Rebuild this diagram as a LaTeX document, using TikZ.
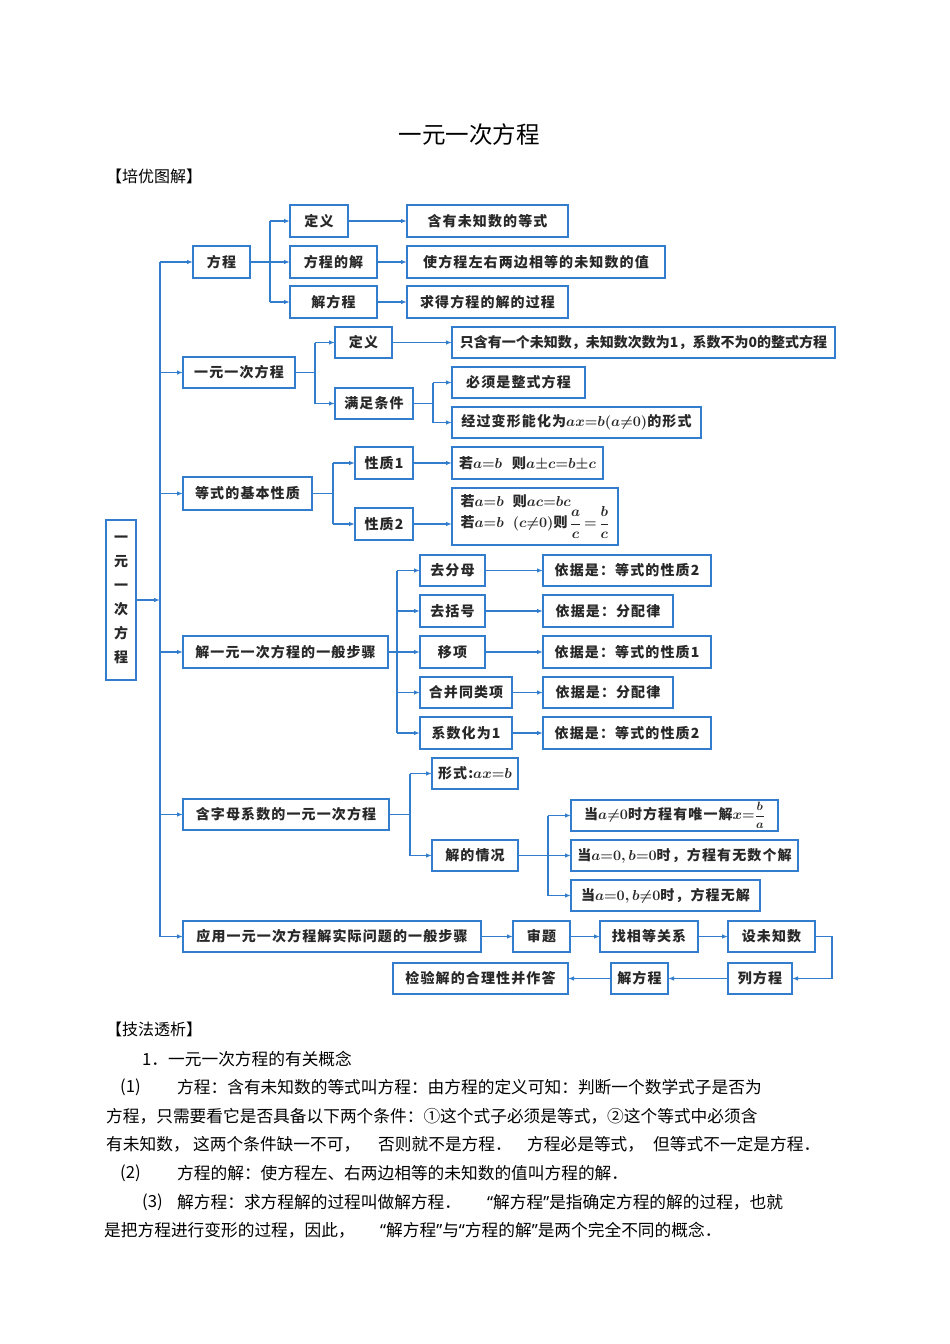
\documentclass[tikz,border=0pt]{standalone}
\usepackage{fontspec}
\setmainfont{Noto Sans CJK SC}
\newfontfamily\boxf[LetterSpace=8]{Noto Sans CJK SC}
\newfontfamily\bodyf{Noto Sans CJK SC}
\newfontfamily\qf{Noto Sans}
\newcommand\lqq{{\qf “}}
\newcommand\rqq{{\qf ”}}
\newcommand\bigfr[3]{{\fontsize{#3}{#3}\selectfont$\displaystyle\frac{#1}{#2}$}}
\usetikzlibrary{arrows.meta}
\definecolor{bl}{RGB}{50,125,205}
\definecolor{tx}{RGB}{40,40,40}
\tikzset{
  bx/.style={draw=bl,line width=1.6pt,inner sep=0pt,outer sep=0pt,text=tx,font=\boxf\bfseries\boldmath\fontsize{14}{16}\selectfont},
  ln/.style={draw=bl,line width=1.2pt},
  arr/.style={ln,-{Latex[length=6pt,width=4.5pt]}},
  txt/.style={inner sep=0pt,anchor=west,text=black,font=\bodyf\fontsize{16.7}{18}\selectfont},
}
\newcommand\bx[6]{\node[bx,minimum width={(#4-#2)*1pt},minimum height={(#5-#3)*1pt}] (#1) at ({(#2+#4)/2},{(#3+#5)/2}) {#6};}
\begin{document}
\begin{tikzpicture}[x=1pt,y=-1pt]
\useasboundingbox (0,0) rectangle (950,1344);
\fill[white] (0,0) rectangle (950,1344);
% headings
\node[inner sep=0pt,font=\bodyf\fontsize{23.5}{25}\selectfont] (title) at (469,135) {一元一次方程};
\node[txt,font=\bodyf\fontsize{16}{18}\selectfont] (h1) at (106,176) {【培优图解】};
% boxes
\node[bx,minimum width=30pt,minimum height=160pt,align=center,font=\boxf\bfseries\fontsize{14}{24}\selectfont] (big) at (121,600) {一\\元\\一\\次\\方\\程};
\bx{fc}{193}{246}{250}{278}{方程}
\bx{yy}{183}{357}{295}{388}{一元一次方程}
\bx{dx}{183}{477}{312}{510}{等式的基本性质}
\bx{bz}{183}{636}{388}{668}{解一元一次方程的一般步骤}
\bx{hz}{183}{799}{389}{830}{含字母系数的一元一次方程}
\bx{app}{183}{921}{481}{952}{应用一元一次方程解实际问题的一般步骤}
\bx{d1}{290}{205}{348}{237}{定义}
\bx{s1}{290}{246}{377}{278}{方程的解}
\bx{j1}{290}{286}{377}{318}{解方程}
\bx{t1}{407}{205}{568}{237}{含有未知数的等式}
\bx{t2}{407}{246}{665}{278}{使方程左右两边相等的未知数的值}
\bx{t3}{407}{286}{568}{318}{求得方程的解的过程}
\bx{d2}{335}{327}{392}{358}{定义}
\bx{tj}{335}{388}{413}{419}{满足条件}
\bx{dd}{452}{327}{835}{358}{\bodyf\bfseries\fontsize{14}{16}\selectfont 只含有一个未知数，未知数次数为1，系数不为0的整式方程}
\bx{c1}{452}{367}{585}{398}{必须是整式方程}
\bx{c2}{452}{407}{701}{438}{经过变形能化为$ax{=}b(a{\neq}0)$的形式}
\bx{x1}{355}{447}{413}{479}{性质1}
\bx{x2}{355}{508}{413}{540}{性质2}
\bx{r1}{452}{447}{603}{479}{若$a{=}b$\hspace{10pt}则$a{\pm}c{=}b{\pm}c$}
\node[bx,minimum width=166pt,minimum height=57pt,align=left] (r2) at (535,516.5) {若$a{=}b$\hspace{9pt}则$ac{=}bc$\\[-2pt]若$a{=}b$\hspace{9pt}$(c{\neq}0)$则\,\bigfr{a}{c}{14.5}$\,{=}\,$\bigfr{b}{c}{14.5}};
\bx{k1}{420}{555}{485}{586}{去分母}
\bx{k2}{420}{595}{485}{627}{去括号}
\bx{k3}{420}{636}{485}{668}{移项}
\bx{k4}{420}{677}{512}{708}{合并同类项}
\bx{k5}{420}{717}{512}{749}{系数化为1}
\bx{e1}{543}{555}{711}{586}{依据是：等式的性质2}
\bx{e2}{543}{595}{673}{627}{依据是：分配律}
\bx{e3}{543}{636}{711}{668}{依据是：等式的性质1}
\bx{e4}{543}{677}{673}{708}{依据是：分配律}
\bx{e5}{543}{717}{711}{749}{依据是：等式的性质2}
\bx{xs}{432}{758}{518}{789}{形式:$ax{=}b$}
\bx{jq}{432}{840}{518}{871}{解的情况}
\bx{q1}{571}{800}{778}{831}{当$a{\neq}0$时方程有唯一解$x{=}$\bigfr{b}{a}{13}}
\bx{q2}{571}{840}{798}{871}{当$a{=}0,b{=}0$时，方程有无数个解}
\bx{q3}{571}{880}{760}{911}{当$a{=}0,b{\neq}0$时，方程无解}
\bx{sh}{513}{921}{570}{952}{审题}
\bx{zx}{600}{921}{698}{952}{找相等关系}
\bx{sw}{728}{921}{815}{952}{设未知数}
\bx{lf}{728}{963}{792}{994}{列方程}
\bx{jf}{611}{963}{668}{994}{解方程}
\bx{jy}{393}{963}{568}{994}{检验解的合理性并作答}
% spines
\coordinate (S0) at (160,0);
\coordinate (S1) at (270,0);
\coordinate (S2) at (315,0);
\coordinate (S3) at (433,0);
\coordinate (S4) at (333,0);
\coordinate (S5) at (397,0);
\coordinate (S6) at (410,0);
\coordinate (S7) at (548,0);
% main spine
\draw[ln] (S0|-fc.west) -- (S0|-app.west);
\draw[arr] (big.east) -- (big.east-|S0);
\foreach \n in {fc,yy,dx,bz,hz,app} \draw[arr] (S0|-\n.west) -- (\n.west);
% fangcheng
\draw[ln] (fc.east) -- (fc.east-|S1);
\draw[ln] (S1|-d1.west) -- (S1|-j1.west);
\foreach \n in {d1,s1,j1} \draw[arr] (S1|-\n.west) -- (\n.west);
\draw[arr] (d1.east) -- (t1.west);
\draw[arr] (s1.east) -- (t2.west);
\draw[arr] (j1.east) -- (t3.west);
% yiyuan
\draw[ln] (yy.east) -- (yy.east-|S2);
\draw[ln] (S2|-d2.west) -- (S2|-tj.west);
\foreach \n in {d2,tj} \draw[arr] (S2|-\n.west) -- (\n.west);
\draw[arr] (d2.east) -- (dd.west);
\draw[ln] (tj.east) -- (tj.east-|S3);
\draw[ln] (S3|-c1.west) -- (S3|-c2.west);
\foreach \n in {c1,c2} \draw[arr] (S3|-\n.west) -- (\n.west);
% dengshi
\draw[ln] (dx.east) -- (dx.east-|S4);
\draw[ln] (S4|-x1.west) -- (S4|-x2.west);
\foreach \n in {x1,x2} \draw[arr] (S4|-\n.west) -- (\n.west);
\draw[arr] (x1.east) -- (r1.west);
\draw[arr] (x2.east) -- (x2.east-|r2.west);
% steps
\draw[ln] (bz.east) -- (bz.east-|S5);
\draw[ln] (S5|-k1.west) -- (S5|-k5.west);
\foreach \n in {k1,k2,k3,k4,k5} \draw[arr] (S5|-\n.west) -- (\n.west);
\draw[arr] (k1.east) -- (e1.west);
\draw[arr] (k2.east) -- (e2.west);
\draw[arr] (k3.east) -- (e3.west);
\draw[arr] (k4.east) -- (e4.west);
\draw[arr] (k5.east) -- (e5.west);
% letter coefficients
\draw[ln] (hz.east) -- (hz.east-|S6);
\draw[ln] (S6|-xs.west) -- (S6|-jq.west);
\foreach \n in {xs,jq} \draw[arr] (S6|-\n.west) -- (\n.west);
\draw[ln] (jq.east) -- (jq.east-|S7);
\draw[ln] (S7|-q1.west) -- (S7|-q3.west);
\foreach \n in {q1,q2,q3} \draw[arr] (S7|-\n.west) -- (\n.west);
% application
\draw[arr] (app.east) -- (sh.west);
\draw[arr] (sh.east) -- (zx.west);
\draw[arr] (zx.east) -- (sw.west);
\draw[arr] (sw.east) -- ++(17,0) |- (lf.east);
\draw[arr] (lf.west) -- (jf.east);
\draw[arr] (jf.west) -- (jy.east);
% body text
\node[txt,font=\bodyf\fontsize{16}{18}\selectfont] (h2) at (106,1029) {【技法透析】};
\node[txt] (l1) at (142,1059) {1．一元一次方程的有关概念};
\node[txt] (l2a) at (120,1087) {(1)};
\node[txt] (l2b) at (177,1087) {方程：含有未知数的等式叫方程：由方程的定义可知：判断一个数学式子是否为};
\node[txt] (l3) at (106,1116) {方程，只需要看它是否具备以下两个条件：①这个式子必须是等式，②这个等式中必须含};
\node[txt] (l4a) at (106,1144) {有未知数，};
\node[txt] (l4b) at (193,1144) {这两个条件缺一不可，};
\node[txt] (l4c) at (378,1144) {否则就不是方程．};
\node[txt] (l4d) at (527,1144) {方程必是等式，};
\node[txt] (l4e) at (653,1144) {但等式不一定是方程．};
\node[txt] (l5a) at (120,1173) {(2)};
\node[txt] (l5b) at (177,1173) {方程的解：使方程左、右两边相等的未知数的值叫方程的解．};
\node[txt] (l6a) at (142,1202) {(3)};
\node[txt] (l6b) at (177,1202) {解方程：求方程解的过程叫做解方程．};
\node[txt] (l6c) at (487,1202) {\lqq 解方程\rqq 是指确定方程的解的过程，也就};
\node[txt] (l7a) at (104,1230) {是把方程进行变形的过程，因此，};
\node[txt] (l7b) at (380,1230) {\lqq 解方程\rqq 与\lqq 方程的解\rqq 是两个完全不同的概念．};
\end{tikzpicture}
\end{document}
